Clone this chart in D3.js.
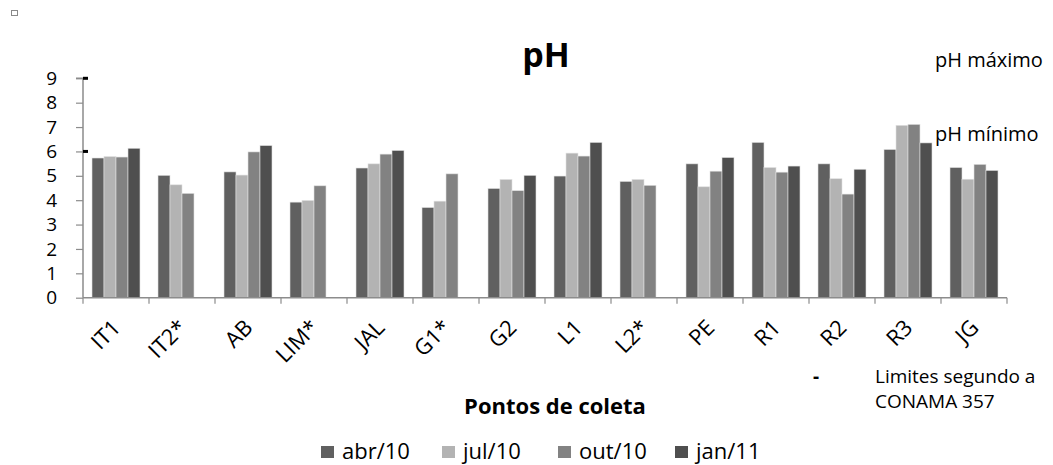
<!DOCTYPE html>
<html>
<head>
<meta charset="utf-8">
<script src="https://cdn.jsdelivr.net/npm/d3@7"></script>
<style>
  html, body { margin: 0; padding: 0; background: #fff; }
  svg { display: block; font-family: "Open Sans", sans-serif; }
</style>
</head>
<body>
<svg id="chart" width="1053" height="465"></svg>
<script>
const categories = ["IT1","IT2*","AB","LIM*","JAL","G1*","G2","L1","L2*","PE","R1","R2","R3","JG"];
const seriesNames = ["abr/10","jul/10","out/10","jan/11"];
const abr10 = [5.73,5.02,5.16,3.92,5.32,3.70,4.48,4.99,4.77,5.49,6.37,5.49,6.08,5.34];
const jul10 = [5.79,4.63,5.03,3.99,5.49,3.96,4.85,5.93,4.85,4.55,5.34,4.88,7.07,4.86];
const out10 = [5.77,4.28,5.98,4.59,5.89,5.08,4.39,5.81,4.61,5.19,5.15,4.25,7.11,5.47];
const jan11 = [6.13,null,6.24,null,6.04,null,5.02,6.37,null,5.75,5.40,5.27,6.35,5.22];
const seriesValues = [abr10, jul10, out10, jan11];
const yTicks = [0,1,2,3,4,5,6,7,8,9];
const limits = [9, 6];
const limitLabels = ["pH máximo","pH mínimo"];
const colors = ["#606060","#b3b3b3","#828282","#4f4f4f"];

const svg = d3.select("#chart");
const mLeft = 83, mRight = 1007, mTop = 78.3, mBottom = 297.7;

const x = d3.scaleBand().domain(categories).range([mLeft, mRight]).padding(0);
const inner = d3.scaleBand().domain(seriesNames)
  .range([0, x.bandwidth()]).paddingOuter(0.75).paddingInner(0);
const y = d3.scaleLinear().domain([0, 9]).range([mBottom, mTop]);

// top-left small square
svg.append("rect").attr("x", 11.5).attr("y", 10.5).attr("width", 6).attr("height", 5)
  .attr("fill", "none").attr("stroke", "#8a8a8a").attr("stroke-width", 1);

// title
svg.append("text").attr("x", 546).attr("y", 67).attr("text-anchor", "middle")
  .attr("font-weight", "bold").attr("font-size", 34).attr("fill", "#000").text("pH");

// bars
const flat = [];
seriesValues.forEach((arr, si) => arr.forEach((v, ci) => {
  if (v != null) flat.push({ s: seriesNames[si], si, c: categories[ci], v });
}));
svg.append("g").selectAll("rect").data(flat).join("rect")
  .attr("x", d => x(d.c) + inner(d.s))
  .attr("y", d => y(d.v))
  .attr("width", inner.bandwidth())
  .attr("height", d => y(0) - y(d.v))
  .attr("fill", d => colors[d.si])
  .attr("stroke", "#e0e0e0").attr("stroke-width", 0.6);

// y axis
const yAxis = d3.axisLeft(y).tickValues(yTicks).tickSize(7).tickPadding(19).tickFormat(d3.format("d"));
const gy = svg.append("g").attr("transform", `translate(${mLeft},0)`).call(yAxis);
gy.select(".domain").attr("stroke", "#8c8c8c").attr("stroke-width", 1.5).attr("d", `M-7,${y(9)}H0V${y(0)}`);
gy.selectAll(".tick line").attr("stroke", "#8c8c8c").attr("stroke-width", 1.2);
gy.selectAll(".tick text").attr("font-size", 19).attr("fill", "#000")
  .attr("font-family", "Open Sans, sans-serif");

// x axis
const xAxis = d3.axisBottom(x).tickSize(0).tickFormat("");
const gx = svg.append("g").attr("transform", `translate(0,${mBottom})`).call(xAxis);
gx.select(".domain").attr("stroke", "#8c8c8c").attr("stroke-width", 1.5).attr("d", `M${mLeft},0H${mRight}`);
// category boundary ticks
const bounds = categories.map(c => x(c)).concat([mRight]);
svg.append("g").selectAll("line").data(bounds).join("line")
  .attr("x1", d => d).attr("x2", d => d)
  .attr("y1", mBottom).attr("y2", mBottom + 6)
  .attr("stroke", "#8c8c8c").attr("stroke-width", 1.2);

// x labels
svg.append("g").selectAll("text").data(categories).join("text")
  .attr("transform", d => `translate(${x(d) + x.bandwidth() / 2 + 6},329) rotate(-45)`)
  .attr("text-anchor", "end").attr("font-size", 22).attr("fill", "#000")
  .text(d => d);

// limit markers
svg.append("g").selectAll("rect").data(limits).join("rect")
  .attr("x", mLeft).attr("y", d => y(d) - 1.5).attr("width", 5).attr("height", 3)
  .attr("fill", "#000");

// limit labels
svg.append("g").selectAll("text").data(limitLabels).join("text")
  .attr("x", 935).attr("y", (d, i) => [67, 141][i])
  .attr("font-size", 20).attr("fill", "#000").text(d => d);

// x axis title
svg.append("text").attr("x", 555).attr("y", 414).attr("text-anchor", "middle")
  .attr("font-weight", "bold").attr("font-size", 22).attr("fill", "#000").text("Pontos de coleta");

// Limits legend
svg.append("text").attr("x", 813).attr("y", 383).attr("font-weight", "bold")
  .attr("font-size", 19).attr("fill", "#000").text("-");
const limText = svg.append("text").attr("x", 875).attr("font-size", 19).attr("fill", "#000");
limText.append("tspan").attr("x", 875).attr("y", 383).text("Limites segundo a");
limText.append("tspan").attr("x", 875).attr("y", 408).text("CONAMA 357");

// legend
const legX = [321, 442, 558, 675];
const leg = svg.append("g").selectAll("g").data(seriesNames).join("g")
  .attr("transform", (d, i) => `translate(${legX[i]},446)`);
leg.append("rect").attr("width", 13).attr("height", 12).attr("fill", (d, i) => colors[i]);
leg.append("text").attr("x", 21).attr("y", 12.5).attr("font-size", 22).attr("fill", "#000").text(d => d);
</script>
</body>
</html>
